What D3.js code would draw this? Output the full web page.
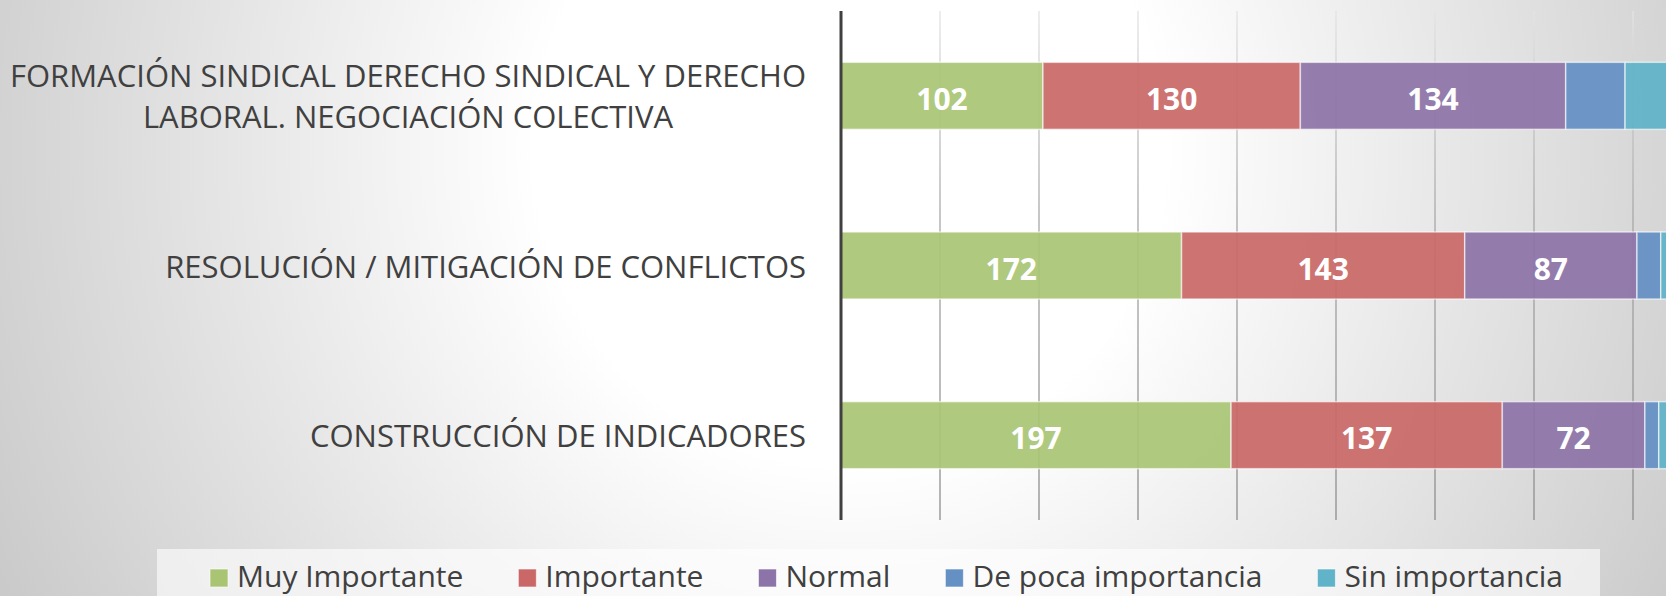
<!DOCTYPE html>
<html>

<head>
    <meta charset="utf-8">
    <title>Formación - importancia</title>
    <style>
        body { margin: 0; overflow: hidden; }
        svg { display: block; }
    </style>
</head>

<body>
    <svg class="chart"></svg>
    <script src="https://cdn.jsdelivr.net/npm/d3@7/dist/d3.min.js"></script>
    <script>
        var width = 1666, height = 596

        // data
        const categories = [
            "FORMACIÓN SINDICAL DERECHO SINDICAL Y DERECHO\nLABORAL. NEGOCIACIÓN COLECTIVA",
            "RESOLUCIÓN / MITIGACIÓN DE CONFLICTOS",
            "CONSTRUCCIÓN DE INDICADORES"
        ]
        const seriesNames = ["Muy Importante", "Importante", "Normal", "De poca importancia", "Sin importancia"]
        const muyImportante = [102, 172, 197]
        const importante = [130, 143, 137]
        const normal = [134, 87, 72]
        const dePoca = [30, 12, 7]
        const sinImportancia = [22, 8, 6]
        const colors = ["#a9c574", "#c96867", "#8d74a8", "#6490c4", "#60b3c8"]

        const margin = { left: 841, top: 11, bottom: 76 }

        var data = categories.map((c, i) => ({
            cat: c,
            "Muy Importante": muyImportante[i],
            "Importante": importante[i],
            "Normal": normal[i],
            "De poca importancia": dePoca[i],
            "Sin importancia": sinImportancia[i]
        }))

        var svg = d3.select(".chart")
            .attr("width", width)
            .attr("height", height)
            .style("font-family", "'Open Sans', sans-serif")

        var defs = svg.append("defs")
        var bg = defs.append("radialGradient")
            .attr("id", "bg")
            .attr("gradientUnits", "userSpaceOnUse")
            .attr("cx", 850).attr("cy", 150).attr("r", 1050)
        bg.append("stop").attr("offset", 0).attr("stop-color", "#ffffff")
        bg.append("stop").attr("offset", 0.3).attr("stop-color", "#ffffff")
        bg.append("stop").attr("offset", 1).attr("stop-color", "#c2c2c2")

        var gridGrad = defs.append("linearGradient")
            .attr("id", "grid")
            .attr("gradientUnits", "userSpaceOnUse")
            .attr("x1", 0).attr("x2", 0)
            .attr("y1", margin.top).attr("y2", height - margin.bottom)
        gridGrad.append("stop").attr("offset", 0).attr("stop-color", "#e4e4e4")
        gridGrad.append("stop").attr("offset", 0.4).attr("stop-color", "#a8a8a8")
        gridGrad.append("stop").attr("offset", 1).attr("stop-color", "#8c8c8c")

        svg.append("rect")
            .attr("width", width).attr("height", height)
            .attr("fill", "url(#bg)")

        var xScale = d3.scaleLinear()
            .domain([0, 450])
            .range([margin.left, margin.left + 1.98 * 450])

        var yScale = d3.scaleBand()
            .domain(categories)
            .range([margin.top, height - margin.bottom])
            .paddingInner(0.605)
            .paddingOuter(0.3025)

        // vertical gridlines
        svg.append("g")
            .selectAll("line")
            .data(xScale.ticks(9).filter(d => d > 0))
            .enter()
            .append("line")
            .attr("x1", d => xScale(d)).attr("x2", d => xScale(d))
            .attr("y1", margin.top).attr("y2", height - margin.bottom)
            .attr("stroke", "url(#grid)")
            .attr("stroke-width", 1.3)

        var stacked = d3.stack().keys(seriesNames)(data)

        var layers = svg.append("g")
            .selectAll("g")
            .data(stacked)
            .enter()
            .append("g")
            .attr("fill", (d, i) => colors[i])

        layers.selectAll("rect")
            .data(d => d)
            .enter()
            .append("rect")
            .attr("x", d => xScale(d[0]))
            .attr("width", d => xScale(d[1]) - xScale(d[0]))
            .attr("y", d => yScale(d.data.cat))
            .attr("height", yScale.bandwidth())
            .attr("fill-opacity", 0.93)
            .attr("stroke", "#ffffff")
            .attr("stroke-opacity", 0.6)
            .attr("stroke-width", 1.5)

        // value labels (small segments are left unlabeled)
        layers.selectAll("text")
            .data(d => d.filter(s => s[1] - s[0] >= 40))
            .enter()
            .append("text")
            .attr("x", d => (xScale(d[0]) + xScale(d[1])) / 2)
            .attr("y", d => yScale(d.data.cat) + yScale.bandwidth() / 2 + 14)
            .attr("text-anchor", "middle")
            .attr("fill", "#ffffff")
            .attr("font-size", 30)
            .attr("font-weight", 700)
            .text(d => d[1] - d[0])

        // axis line
        svg.append("line")
            .attr("x1", margin.left).attr("x2", margin.left)
            .attr("y1", margin.top).attr("y2", height - margin.bottom)
            .attr("stroke", "#404040")
            .attr("stroke-width", 3)

        // category labels, lines centred on each other, block right-aligned
        var labels = svg.append("g")
            .selectAll("text")
            .data(categories)
            .enter()
            .append("text")
            .attr("fill", "#404040")
            .attr("font-size", 31)

        labels.each(function (d) {
            var lines = d.split("\n")
            var t = d3.select(this)
            var cy = yScale(d) + yScale.bandwidth() / 2
            lines.forEach((l, i) => {
                t.append("tspan")
                    .attr("y", cy + 12 + (i - (lines.length - 1) / 2) * 41)
                    .text(l)
            })
            var w = d3.max(t.selectAll("tspan").nodes(), n => n.getComputedTextLength())
            var right = 806
            t.attr("text-anchor", "middle")
            t.selectAll("tspan").attr("x", right - w / 2)
        })

        // legend
        var legend = svg.append("g")
        legend.append("rect")
            .attr("x", 157).attr("y", 549)
            .attr("width", 1443).attr("height", 60)
            .attr("fill", "#ffffff")
            .attr("fill-opacity", 0.6)

        var lx = 210
        seriesNames.forEach((s, i) => {
            legend.append("rect")
                .attr("x", lx).attr("y", 569)
                .attr("width", 18).attr("height", 18)
                .attr("fill", colors[i])
                .attr("stroke", "#ffffff")
                .attr("stroke-opacity", 0.6)
            var t = legend.append("text")
                .attr("x", lx + 27).attr("y", 587)
                .attr("fill", "#404040")
                .attr("font-size", 30)
                .text(s)
            lx += 27 + t.node().getComputedTextLength() + 55
        })
    </script>
</body>

</html>
